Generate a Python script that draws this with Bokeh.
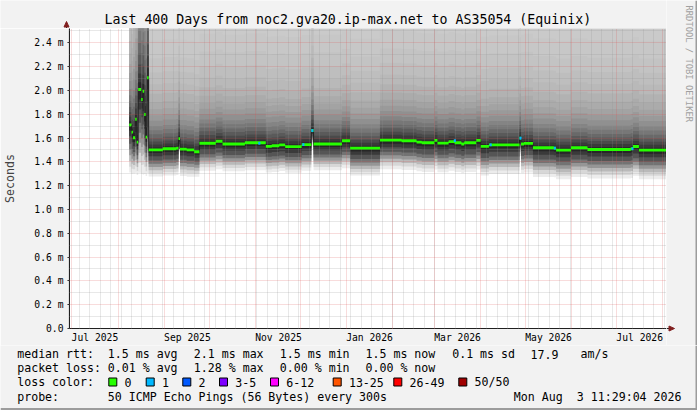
import numpy as np
import pandas as pd
from bokeh.plotting import figure
from bokeh.layouts import column, row
from bokeh.models import (Range1d, FixedTicker, DatetimeTickFormatter, CustomJSTickFormatter, Grid)
from bokeh.core.properties import value
from bokeh.embed import file_html
from bokeh.resources import INLINE

# ---------------- data ----------------
title_text = "Last 400 Days from noc2.gva20.ip-max.net to AS35054 (Equinix)"
start_time = "2025-06-29 11:29:04"
end_time = "2026-08-03 11:29:04"

median_dates = [
    "2025-08-08 12:00", "2025-08-10 00:00", "2025-08-11 00:00", "2025-08-12 12:00",
    "2025-08-13 12:00", "2025-08-14 12:00", "2025-08-16 12:00", "2025-08-17 12:00",
    "2025-08-18 12:00", "2025-08-19 12:00", "2025-08-20 12:00", "2025-08-21 12:00",
    "2025-08-31", "2025-09-09", "2025-09-10 12:00", "2025-09-11 12:00",
    "2025-09-16", "2025-09-21", "2025-09-24 12:00", "2025-10-05 12:00",
    "2025-10-10", "2025-10-25", "2025-11-08", "2025-11-12",
    "2025-11-17", "2025-11-21", "2025-12-02", "2025-12-08 12:00",
    "2025-12-10", "2025-12-29", "2026-01-03 12:00", "2026-01-23 12:00",
    "2026-02-07", "2026-02-17", "2026-02-20 12:00", "2026-03-01",
    "2026-03-03", "2026-03-10 12:00", "2026-03-14 12:00", "2026-03-19",
    "2026-03-21", "2026-03-29", "2026-04-01", "2026-04-06 12:00",
    "2026-04-27", "2026-04-28", "2026-04-30", "2026-05-06",
    "2026-05-20", "2026-05-21 12:00", "2026-05-31 12:00", "2026-06-11 12:00",
    "2026-07-10 12:00", "2026-07-12", "2026-07-16",
]
# median rtt in milliseconds
median_ms = [
    1.711, 1.649, 1.602, 1.758,
    1.565, 2.008, 1.924, 1.993,
    1.798, 1.607, 2.106, 1.501,
    1.510, 1.515, 1.595, 1.507,
    1.500, 1.485, 1.556, 1.573,
    1.550, 1.560, 1.530, 1.535,
    1.542, 1.528, 1.545, 1.663,
    1.550, 1.577, 1.515, 1.582,
    1.577, 1.565, 1.560, 1.580,
    1.557, 1.570, 1.560, 1.550,
    1.560, 1.580, 1.530, 1.543,
    1.599, 1.550, 1.555, 1.518,
    1.515, 1.498, 1.518, 1.504,
    1.510, 1.529, 1.498,
]
# relative spread of the 50 pings above / below the median (1.0 = typical)
upper_spread = [
    1.5, 1.5, 2.0, 2.0,
    3.0, 3.0, 3.0, 3.0,
    3.5, 4.0, 4.0, 1.0,
    1.0, 1.0, 1.2, 1.0,
    1.0, 1.0, 1.0, 1.0,
    1.0, 1.0, 1.0, 1.0,
    1.0, 1.0, 1.0, 1.3,
    1.0, 1.0, 1.0, 1.0,
    1.0, 1.0, 1.0, 1.0,
    1.0, 1.0, 1.0, 1.0,
    1.0, 1.0, 1.0, 1.0,
    1.1, 1.0, 1.0, 1.0,
    1.0, 1.0, 1.0, 1.0,
    1.0, 1.0, 1.0,
]
lower_spread = [
    1.6, 1.4, 1.2, 1.8,
    1.1, 2.8, 2.5, 2.8,
    2.0, 1.3, 3.2, 0.90,
    0.90, 0.90, 0.46, 0.90,
    0.90, 0.84, 0.92, 0.94,
    0.92, 0.92, 0.88, 0.88,
    0.88, 0.88, 0.88, 0.50,
    0.88, 0.92, 0.92, 0.98,
    0.98, 0.98, 0.98, 0.98,
    0.98, 0.98, 0.98, 0.98,
    0.98, 0.98, 0.98, 0.98,
    0.60, 0.98, 0.98, 0.98,
    0.98, 0.98, 0.98, 0.98,
    0.98, 0.98, 0.98,
]
# smoke band edges (ms away from median at spread 1.0)
up_edges = [0.02, 0.045, 0.07, 0.10, 0.13, 0.165, 0.20, 0.245, 0.29, 0.34,
            0.40, 0.47, 0.55, 0.65, 0.77, 0.92, 3.0]
low_edges = [0.03, 0.06, 0.10, 0.13, 0.16, 0.19, 0.22, 0.25]

# days with 1 lost ping
loss1_dates = ["2025-11-03", "2025-12-02 12:00", "2025-12-08 12:00", "2026-03-14",
               "2026-04-07", "2026-04-27", "2026-05-20", "2026-07-11"]
loss1_ms = [1.556, 1.545, 1.663, 1.578, 1.543, 1.599, 1.515, 1.510]

x_label_months = ["2025-07", "2025-09", "2025-11", "2026-01", "2026-03", "2026-05", "2026-07"]
y_ticks = [0, 0.2, 0.4, 0.6, 0.8, 1.0, 1.2, 1.4, 1.6, 1.8, 2.0, 2.2, 2.4]
y_minor = [0.1, 0.3, 0.5, 0.7, 0.9, 1.1, 1.3, 1.5, 1.7, 1.9, 2.1, 2.3, 2.5]

stat_rows = [
    ["median rtt:", "1.5 ms avg", "2.1 ms max", "1.5 ms min", "1.5 ms now", "0.1 ms sd", "17.9", "am/s"],
    ["packet loss:", "0.01 % avg", "1.28 % max", "0.00 % min", "0.00 % now"],
]
loss_labels = ["0", "1", "2", "3-5", "6-12", "13-25", "26-49", "50/50"]
probe_texts = ["probe:", "50 ICMP Echo Pings (56 Bytes) every 300s", "Mon Aug", "3 11:29:04 2026"]
watermark = "RRDTOOL / TOBI OETIKER"

# ---------------- styles ----------------
up_levels = [40, 58, 74, 90, 105, 119, 132, 144, 154, 163, 171, 178, 185, 190, 195, 199, 202]
low_levels = [38, 58, 85, 115, 150, 185, 215, 236]
up_grays = ["#%02x%02x%02x" % (v, v, v) for v in up_levels]
low_grays = ["#%02x%02x%02x" % (v, v, v) for v in low_levels]
loss_colors = ["#26ff00", "#00b8ff", "#0059ff", "#7e00ff", "#ff00ff", "#ff5500", "#ff0000", "#a00000"]
BG = "#f2f2f2"
EDGE = "#9c9c9c"
AXIS = "#202020"
ARROW = "#801f1f"
MONO = "DejaVu Sans Mono"


def to_dt(ts):
    return pd.to_datetime(ts, format="mixed")


def to_ms(ts):
    return [pd.Timestamp(t).value / 1e6 for t in ts]


def blank_fig(w, h, xr, yr):
    f = figure(width=w, height=h, x_range=Range1d(*xr), y_range=Range1d(*yr),
               output_backend="svg", toolbar_location=None, min_border=0,
               x_axis_location=None, y_axis_location=None, title=None)
    f.grid.visible = False
    f.outline_line_color = None
    f.background_fill_color = BG
    f.border_fill_color = BG
    f.frame_align = False
    return f


t0 = pd.Timestamp(start_time)
t1 = pd.Timestamp(end_time)

# ---------------- main plot ----------------
p = figure(width=666, height=317, x_axis_type="datetime", title=None,
           x_range=Range1d(t0, t1), y_range=Range1d(0, 2.52),
           output_backend="svg", toolbar_location=None,
           min_border_left=66, min_border_right=0, min_border_top=0, min_border_bottom=17)
p.background_fill_color = "white"
p.border_fill_color = BG
p.outline_line_color = None
p.grid.visible = False
p.frame_align = False

xs = to_dt(median_dates + [end_time])
med = np.array(median_ms + [median_ms[-1]])
us = np.array(upper_spread + [upper_spread[-1]])
ls = np.array(lower_spread + [lower_spread[-1]])

for e, c in reversed(list(zip(up_edges, up_grays))):
    p.varea_step(x=xs, y1=med, y2=med + e * us, step_mode="after", fill_color=c, fill_alpha=1)
for e, c in reversed(list(zip(low_edges, low_grays))):
    p.varea_step(x=xs, y1=med - e * ls, y2=med, step_mode="after", fill_color=c, fill_alpha=1)

r1 = p.step(x=xs, y=med, mode="after", line_color=AXIS, line_width=1)
r2 = p.varea_step(x=xs, y1=med - 0.012, y2=med + 0.012, step_mode="after",
                  fill_color=loss_colors[0])
loss_x = to_dt(loss1_dates) + pd.Timedelta(hours=16)
r3 = p.rect(x=loss_x, y=loss1_ms, width=1.4 * 86400000, height=0.024,
            fill_color=loss_colors[1], line_color=None)
for r in (r1, r2, r3):
    r.level = "annotation"

# grids
month_starts = pd.date_range("2025-07-01", "2026-08-01", freq="MS")
sundays = pd.date_range("2025-06-29", "2026-08-03", freq="W-SUN")
grid_style = dict(grid_line_color="#de4f4f", grid_line_alpha=0.4, grid_line_dash="1 1",
                  minor_grid_line_color="#8f8f8f", minor_grid_line_alpha=0.42,
                  minor_grid_line_dash="1 1", level="guide")
p.add_layout(Grid(dimension=0, ticker=FixedTicker(ticks=to_ms(month_starts),
                                                  minor_ticks=to_ms(sundays)), **grid_style))
p.add_layout(Grid(dimension=1, ticker=FixedTicker(ticks=y_ticks, minor_ticks=y_minor), **grid_style))

# axes
label_ticks = [pd.Timestamp(m + "-01") + pd.Timedelta(days=15.5) for m in x_label_months]
fmt = "%b %Y"
p.xaxis.ticker = FixedTicker(ticks=to_ms(label_ticks))
p.xaxis.formatter = DatetimeTickFormatter(microseconds=fmt, milliseconds=fmt, seconds=fmt,
                                          minsec=fmt, minutes=fmt, hourmin=fmt, hours=fmt,
                                          days=fmt, months=fmt, years=fmt)
p.xaxis.major_tick_line_color = None
p.xaxis.minor_tick_line_color = None
p.xaxis.major_label_standoff = -3
p.yaxis.ticker = FixedTicker(ticks=y_ticks)
p.yaxis.formatter = CustomJSTickFormatter(code="return tick == 0 ? '0.0' : tick.toFixed(1) + ' m';")
p.yaxis.major_tick_out = 2
p.yaxis.major_tick_in = 0
p.yaxis.major_tick_line_color = AXIS
p.yaxis.minor_tick_line_color = None
p.yaxis.major_label_standoff = 4
for ax in (p.xaxis, p.yaxis):
    ax.axis_line_color = AXIS
    ax.major_label_text_font = MONO
    ax.major_label_text_font_size = "9.7px"
    ax.major_label_text_color = "black"
p.yaxis.axis_label = "Seconds"
p.yaxis.axis_label_text_font = MONO
p.yaxis.axis_label_text_font_size = "11.6px"
p.yaxis.axis_label_text_font_style = "normal"
p.yaxis.axis_label_standoff = 14

# ---------------- title strip (with y-axis arrow) ----------------
top = blank_fig(666, 28, (0, 666), (28, 0))
top.text(x=[104], y=[19.3], text=[title_text], text_font=value(MONO), text_font_size="13.25px",
         text_baseline="middle", text_align="left", text_color="black")
top.segment(x0=[66], y0=[24], x1=[66], y1=[28], line_color=AXIS, line_width=1)
top.patch(x=[63.5, 68.5, 66], y=[26.5, 26.5, 21], fill_color=ARROW, line_color=ARROW)

# ---------------- right strip (watermark + x-axis arrow) ----------------
side = blank_fig(31, 345, (666, 697), (345, 0))
side.text(x=[688.5], y=[5], text=[watermark], angle=-np.pi / 2, text_font=value(MONO),
          text_font_size="8.8px", text_baseline="middle", text_align="left", text_color="#a0a0a0")
side.segment(x0=[666], y0=[328], x1=[670], y1=[328], line_color=AXIS, line_width=1)
side.patch(x=[668.5, 668.5, 674], y=[325.5, 330.5, 328], fill_color=ARROW, line_color=ARROW)
side.quad(left=[695], right=[697], top=[0], bottom=[345], fill_color=EDGE, line_color=None)

# ---------------- legend area ----------------
leg = blank_fig(697, 65, (0, 697), (410, 345))
row_y = [353.5, 367.5, 381.5, 396.0]
col_x = [16.7, 107.3, 193.3, 279.3, 365.0, 451.7, 530.0, 580.0]
tx, ty, tt = [], [], []
for ri, r_ in enumerate(stat_rows):
    for ci, s in enumerate(r_):
        tx.append(col_x[ci]); ty.append(row_y[ri]); tt.append(s)
tx.append(16.7); ty.append(row_y[2]); tt.append("loss color:")
box_left = [108.3, 145.7, 182.3, 219.0, 270.0, 332.7, 393.3, 458.3]
for bl, lab in zip(box_left, loss_labels):
    tx.append(bl + 15.7); ty.append(row_y[2]); tt.append(lab)
for px, s in zip([16.7, 107.3, 513.3, 576.3], probe_texts):
    tx.append(px); ty.append(row_y[3]); tt.append(s)
leg.text(x=tx, y=ty, text=tt, text_font=value(MONO), text_font_size="11.6px",
         text_baseline="middle", text_align="left", text_color="black")
leg.rect(x=[b + 4 for b in box_left], y=[row_y[2]] * len(box_left), width=8, height=8,
         fill_color=loss_colors, line_color="black", line_width=1)
leg.quad(left=[0, 695], right=[697, 697], top=[407.5, 345], bottom=[410, 410],
         fill_color=EDGE, line_color=None)

layout = column(row(column(top, p, spacing=0), side, spacing=0), leg, spacing=0)
open("out.html", "w").write(file_html(layout, INLINE))
